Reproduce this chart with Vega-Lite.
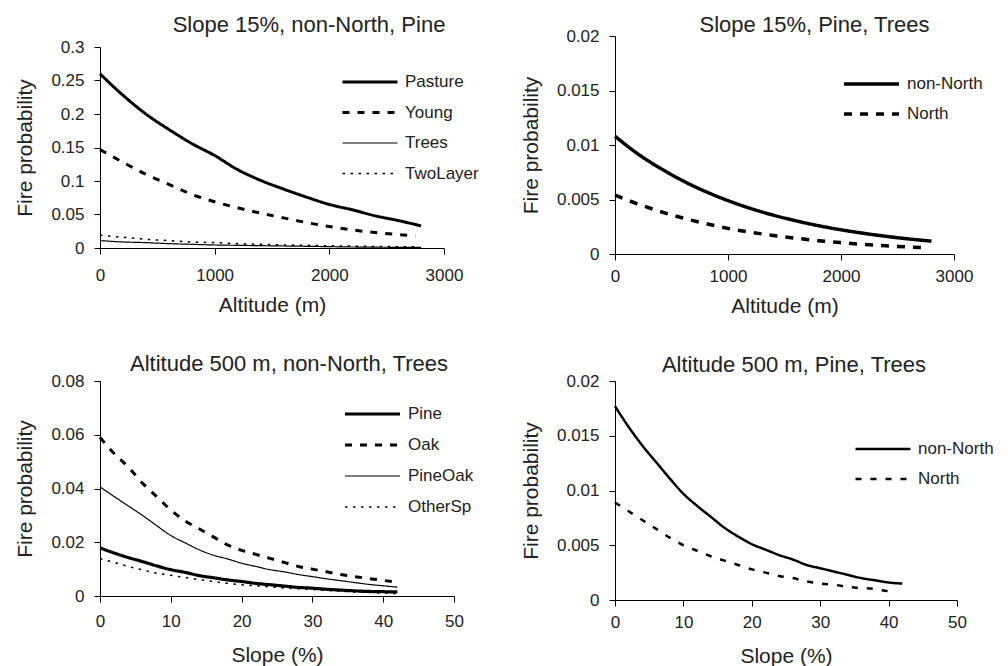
{
  "$schema": "https://vega.github.io/schema/vega-lite/v6.json",
  "padding": {"left": 14, "top": 13, "right": 5, "bottom": 2},
  "background": "white",
  "datasets": {
    "p1": [
      {"x":0,"p":0.26,"s":"Pasture"},{"x":200,"p":0.228,"s":"Pasture"},{"x":400,"p":0.2,"s":"Pasture"},{"x":600,"p":0.177,"s":"Pasture"},{"x":800,"p":0.156,"s":"Pasture"},{"x":1000,"p":0.138,"s":"Pasture"},{"x":1200,"p":0.117,"s":"Pasture"},{"x":1400,"p":0.101,"s":"Pasture"},{"x":1600,"p":0.088,"s":"Pasture"},{"x":1800,"p":0.076,"s":"Pasture"},{"x":2000,"p":0.065,"s":"Pasture"},{"x":2200,"p":0.057,"s":"Pasture"},{"x":2400,"p":0.048,"s":"Pasture"},{"x":2600,"p":0.041,"s":"Pasture"},{"x":2800,"p":0.033,"s":"Pasture"},
      {"x":0,"p":0.147,"s":"Young"},{"x":200,"p":0.128,"s":"Young"},{"x":400,"p":0.11,"s":"Young"},{"x":600,"p":0.095,"s":"Young"},{"x":800,"p":0.08,"s":"Young"},{"x":1000,"p":0.069,"s":"Young"},{"x":1200,"p":0.06,"s":"Young"},{"x":1400,"p":0.052,"s":"Young"},{"x":1600,"p":0.045,"s":"Young"},{"x":1800,"p":0.038,"s":"Young"},{"x":2000,"p":0.032,"s":"Young"},{"x":2200,"p":0.027,"s":"Young"},{"x":2400,"p":0.023,"s":"Young"},{"x":2600,"p":0.02,"s":"Young"},{"x":2750,"p":0.018,"s":"Young"},
      {"x":0,"p":0.011,"s":"Trees"},{"x":200,"p":0.009,"s":"Trees"},{"x":400,"p":0.008,"s":"Trees"},{"x":600,"p":0.0065,"s":"Trees"},{"x":800,"p":0.0055,"s":"Trees"},{"x":1000,"p":0.0045,"s":"Trees"},{"x":1200,"p":0.004,"s":"Trees"},{"x":1400,"p":0.0035,"s":"Trees"},{"x":1600,"p":0.003,"s":"Trees"},{"x":1800,"p":0.0025,"s":"Trees"},{"x":2000,"p":0.002,"s":"Trees"},{"x":2200,"p":0.0015,"s":"Trees"},{"x":2400,"p":0.0012,"s":"Trees"},{"x":2600,"p":0.001,"s":"Trees"},{"x":2800,"p":0.0008,"s":"Trees"},
      {"x":0,"p":0.019,"s":"TwoLayer"},{"x":200,"p":0.016,"s":"TwoLayer"},{"x":400,"p":0.013,"s":"TwoLayer"},{"x":600,"p":0.011,"s":"TwoLayer"},{"x":800,"p":0.009,"s":"TwoLayer"},{"x":1000,"p":0.008,"s":"TwoLayer"},{"x":1200,"p":0.0065,"s":"TwoLayer"},{"x":1400,"p":0.0055,"s":"TwoLayer"},{"x":1600,"p":0.0045,"s":"TwoLayer"},{"x":1800,"p":0.004,"s":"TwoLayer"},{"x":2000,"p":0.0033,"s":"TwoLayer"},{"x":2200,"p":0.0028,"s":"TwoLayer"},{"x":2400,"p":0.0023,"s":"TwoLayer"},{"x":2600,"p":0.002,"s":"TwoLayer"},{"x":2750,"p":0.0018,"s":"TwoLayer"}
    ],
    "p2": [
      {"x":0,"p":0.0108,"s":"non-North"},{"x":200,"p":0.0092,"s":"non-North"},{"x":400,"p":0.00787,"s":"non-North"},{"x":600,"p":0.00672,"s":"non-North"},{"x":800,"p":0.00574,"s":"non-North"},{"x":1000,"p":0.0049,"s":"non-North"},{"x":1200,"p":0.00418,"s":"non-North"},{"x":1400,"p":0.00357,"s":"non-North"},{"x":1600,"p":0.00305,"s":"non-North"},{"x":1800,"p":0.0026,"s":"non-North"},{"x":2000,"p":0.00222,"s":"non-North"},{"x":2200,"p":0.0019,"s":"non-North"},{"x":2400,"p":0.00162,"s":"non-North"},{"x":2600,"p":0.00138,"s":"non-North"},{"x":2800,"p":0.00118,"s":"non-North"},
      {"x":0,"p":0.0054,"s":"North"},{"x":200,"p":0.0046,"s":"North"},{"x":400,"p":0.0039,"s":"North"},{"x":600,"p":0.0033,"s":"North"},{"x":800,"p":0.0028,"s":"North"},{"x":1000,"p":0.00235,"s":"North"},{"x":1200,"p":0.002,"s":"North"},{"x":1400,"p":0.0017,"s":"North"},{"x":1600,"p":0.00145,"s":"North"},{"x":1800,"p":0.00122,"s":"North"},{"x":2000,"p":0.00104,"s":"North"},{"x":2200,"p":0.00088,"s":"North"},{"x":2400,"p":0.00075,"s":"North"},{"x":2600,"p":0.00064,"s":"North"},{"x":2750,"p":0.00057,"s":"North"}
    ],
    "p3": [
      {"x":0,"p":0.0179,"s":"Pine"},{"x":2,"p":0.016,"s":"Pine"},{"x":4,"p":0.0143,"s":"Pine"},{"x":6,"p":0.0128,"s":"Pine"},{"x":8,"p":0.0112,"s":"Pine"},{"x":10,"p":0.0098,"s":"Pine"},{"x":12,"p":0.0088,"s":"Pine"},{"x":14,"p":0.0076,"s":"Pine"},{"x":16,"p":0.0068,"s":"Pine"},{"x":18,"p":0.006,"s":"Pine"},{"x":20,"p":0.0054,"s":"Pine"},{"x":22,"p":0.0047,"s":"Pine"},{"x":24,"p":0.0042,"s":"Pine"},{"x":26,"p":0.0037,"s":"Pine"},{"x":28,"p":0.0032,"s":"Pine"},{"x":30,"p":0.0029,"s":"Pine"},{"x":32,"p":0.0025,"s":"Pine"},{"x":34,"p":0.0022,"s":"Pine"},{"x":36,"p":0.0019,"s":"Pine"},{"x":38,"p":0.0017,"s":"Pine"},{"x":40,"p":0.0016,"s":"Pine"},{"x":42,"p":0.0015,"s":"Pine"},
      {"x":0,"p":0.059,"s":"Oak"},{"x":2,"p":0.053,"s":"Oak"},{"x":4,"p":0.048,"s":"Oak"},{"x":6,"p":0.042,"s":"Oak"},{"x":8,"p":0.037,"s":"Oak"},{"x":10,"p":0.032,"s":"Oak"},{"x":12,"p":0.028,"s":"Oak"},{"x":14,"p":0.025,"s":"Oak"},{"x":16,"p":0.022,"s":"Oak"},{"x":18,"p":0.019,"s":"Oak"},{"x":20,"p":0.017,"s":"Oak"},{"x":22,"p":0.0155,"s":"Oak"},{"x":24,"p":0.014,"s":"Oak"},{"x":26,"p":0.0125,"s":"Oak"},{"x":28,"p":0.011,"s":"Oak"},{"x":30,"p":0.01,"s":"Oak"},{"x":32,"p":0.009,"s":"Oak"},{"x":34,"p":0.008,"s":"Oak"},{"x":36,"p":0.0072,"s":"Oak"},{"x":38,"p":0.0065,"s":"Oak"},{"x":40,"p":0.0058,"s":"Oak"},{"x":42,"p":0.0052,"s":"Oak"},
      {"x":0,"p":0.0406,"s":"PineOak"},{"x":2,"p":0.037,"s":"PineOak"},{"x":4,"p":0.0335,"s":"PineOak"},{"x":6,"p":0.03,"s":"PineOak"},{"x":8,"p":0.0262,"s":"PineOak"},{"x":10,"p":0.0225,"s":"PineOak"},{"x":12,"p":0.0198,"s":"PineOak"},{"x":14,"p":0.0172,"s":"PineOak"},{"x":16,"p":0.0152,"s":"PineOak"},{"x":18,"p":0.0138,"s":"PineOak"},{"x":20,"p":0.0122,"s":"PineOak"},{"x":22,"p":0.011,"s":"PineOak"},{"x":24,"p":0.0098,"s":"PineOak"},{"x":26,"p":0.009,"s":"PineOak"},{"x":28,"p":0.008,"s":"PineOak"},{"x":30,"p":0.0072,"s":"PineOak"},{"x":32,"p":0.0064,"s":"PineOak"},{"x":34,"p":0.0057,"s":"PineOak"},{"x":36,"p":0.005,"s":"PineOak"},{"x":38,"p":0.0043,"s":"PineOak"},{"x":40,"p":0.0038,"s":"PineOak"},{"x":42,"p":0.0033,"s":"PineOak"},
      {"x":0,"p":0.0139,"s":"OtherSp"},{"x":2,"p":0.0125,"s":"OtherSp"},{"x":4,"p":0.011,"s":"OtherSp"},{"x":6,"p":0.0097,"s":"OtherSp"},{"x":8,"p":0.0085,"s":"OtherSp"},{"x":10,"p":0.0077,"s":"OtherSp"},{"x":12,"p":0.0069,"s":"OtherSp"},{"x":14,"p":0.0061,"s":"OtherSp"},{"x":16,"p":0.0054,"s":"OtherSp"},{"x":18,"p":0.0047,"s":"OtherSp"},{"x":20,"p":0.0042,"s":"OtherSp"},{"x":22,"p":0.0038,"s":"OtherSp"},{"x":24,"p":0.0034,"s":"OtherSp"},{"x":26,"p":0.003,"s":"OtherSp"},{"x":28,"p":0.0027,"s":"OtherSp"},{"x":30,"p":0.0024,"s":"OtherSp"},{"x":32,"p":0.0021,"s":"OtherSp"},{"x":34,"p":0.0018,"s":"OtherSp"},{"x":36,"p":0.0015,"s":"OtherSp"},{"x":38,"p":0.0013,"s":"OtherSp"},{"x":40,"p":0.0011,"s":"OtherSp"},{"x":42,"p":0.0009,"s":"OtherSp"}
    ],
    "p4": [
      {"x":0,"p":0.0177,"s":"non-North"},{"x":2,"p":0.0158,"s":"non-North"},{"x":4,"p":0.0141,"s":"non-North"},{"x":6,"p":0.0126,"s":"non-North"},{"x":8,"p":0.0111,"s":"non-North"},{"x":10,"p":0.0097,"s":"non-North"},{"x":12,"p":0.0086,"s":"non-North"},{"x":14,"p":0.0076,"s":"non-North"},{"x":16,"p":0.0066,"s":"non-North"},{"x":18,"p":0.0058,"s":"non-North"},{"x":20,"p":0.0051,"s":"non-North"},{"x":22,"p":0.0046,"s":"non-North"},{"x":24,"p":0.0041,"s":"non-North"},{"x":26,"p":0.0037,"s":"non-North"},{"x":28,"p":0.0032,"s":"non-North"},{"x":30,"p":0.0029,"s":"non-North"},{"x":32,"p":0.0026,"s":"non-North"},{"x":34,"p":0.0023,"s":"non-North"},{"x":36,"p":0.002,"s":"non-North"},{"x":38,"p":0.0018,"s":"non-North"},{"x":40,"p":0.0016,"s":"non-North"},{"x":42,"p":0.0015,"s":"non-North"},
      {"x":0,"p":0.0089,"s":"North"},{"x":2,"p":0.0081,"s":"North"},{"x":4,"p":0.0073,"s":"North"},{"x":6,"p":0.0065,"s":"North"},{"x":8,"p":0.0057,"s":"North"},{"x":10,"p":0.005,"s":"North"},{"x":12,"p":0.0045,"s":"North"},{"x":14,"p":0.004,"s":"North"},{"x":16,"p":0.0036,"s":"North"},{"x":18,"p":0.0032,"s":"North"},{"x":20,"p":0.0028,"s":"North"},{"x":22,"p":0.0025,"s":"North"},{"x":24,"p":0.0022,"s":"North"},{"x":26,"p":0.002,"s":"North"},{"x":28,"p":0.0017,"s":"North"},{"x":30,"p":0.0015,"s":"North"},{"x":32,"p":0.0014,"s":"North"},{"x":34,"p":0.0012,"s":"North"},{"x":36,"p":0.0011,"s":"North"},{"x":38,"p":0.001,"s":"North"},{"x":40,"p":0.0008,"s":"North"},{"x":41,"p":0.00075,"s":"North"}
    ]
  },
  "resolve": {"scale": {"strokeDash": "independent", "strokeWidth": "independent"}, "legend": {"strokeDash": "independent", "strokeWidth": "independent"}},
  "spacing": 41,
  "hconcat": [
    {
      "resolve": {"scale": {"strokeDash": "independent", "strokeWidth": "independent"}, "legend": {"strokeDash": "independent", "strokeWidth": "independent"}},
      "spacing": 0,
      "vconcat": [
        {"width": 1, "height": 1, "data": {"values": []}, "mark": {"type": "point", "opacity": 0}},
        {
          "resolve": {"scale": {"strokeDash": "independent", "strokeWidth": "independent"}, "legend": {"strokeDash": "independent", "strokeWidth": "independent"}},
          "spacing": 38,
          "vconcat": [
            {
              "width": 344, "height": 201,
              "title": {"text": "Slope 15%, non-North, Pine", "offset": 1, "dx": 37},
              "data": {"name": "p1"},
              "mark": {"type": "line", "color": "#000", "interpolate": "monotone", "strokeCap": "butt"},
              "encoding": {
                "x": {"field": "x", "type": "quantitative", "scale": {"domain": [0, 3000]}, "axis": {"title": "Altitude (m)", "values": [0, 1000, 2000, 3000], "format": "d", "labelPadding": 13, "titlePadding": 11}},
                "y": {"field": "p", "type": "quantitative", "scale": {"domain": [0, 0.3]}, "axis": {"title": "Fire probability", "values": [0, 0.05, 0.1, 0.15, 0.2, 0.25, 0.3], "format": ".2~f"}},
                "strokeDash": {"field": "s", "type": "nominal", "scale": {"domain": ["Pasture", "Young", "Trees", "TwoLayer"], "range": [[1, 0], [7, 8], [1, 0], [2.5, 5.5]]}, "legend": {"title": null, "orient": "none", "legendX": 241, "legendY": 25, "rowPadding": 10.5}},
                "strokeWidth": {"field": "s", "type": "nominal", "scale": {"type": "ordinal", "domain": ["Pasture", "Young", "Trees", "TwoLayer"], "range": [3, 3, 1.2, 1.5]}, "legend": {"title": null, "orient": "none", "legendX": 241, "legendY": 25, "rowPadding": 10.5}}
              }
            },
            {
              "width": 354, "height": 215,
              "title": {"text": "Altitude 500 m, non-North, Trees", "offset": -4, "dx": 12},
              "data": {"name": "p3"},
              "mark": {"type": "line", "color": "#000", "interpolate": "monotone", "strokeCap": "butt"},
              "encoding": {
                "x": {"field": "x", "type": "quantitative", "scale": {"domain": [0, 50]}, "axis": {"title": "Slope (%)", "values": [0, 10, 20, 30, 40, 50], "format": "d", "labelPadding": 11, "titlePadding": 15}},
                "y": {"field": "p", "type": "quantitative", "scale": {"domain": [0, 0.08]}, "axis": {"title": "Fire probability", "values": [0, 0.02, 0.04, 0.06, 0.08], "format": ".2~f"}},
                "strokeDash": {"field": "s", "type": "nominal", "scale": {"domain": ["Pine", "Oak", "PineOak", "OtherSp"], "range": [[1, 0], [7, 8], [1, 0], [2.5, 5.5]]}, "legend": {"title": null, "orient": "none", "legendX": 243, "legendY": 23, "rowPadding": 11}},
                "strokeWidth": {"field": "s", "type": "nominal", "scale": {"type": "ordinal", "domain": ["Pine", "Oak", "PineOak", "OtherSp"], "range": [3.2, 3, 1.2, 1.5]}, "legend": {"title": null, "orient": "none", "legendX": 243, "legendY": 23, "rowPadding": 11}}
              }
            }
          ]
        }
      ]
    },
    {
      "resolve": {"scale": {"strokeDash": "independent", "strokeWidth": "independent"}, "legend": {"strokeDash": "independent", "strokeWidth": "independent"}},
      "spacing": 0,
      "vconcat": [
        {"width": 1, "height": 1, "data": {"values": []}, "mark": {"type": "point", "opacity": 0}},
        {
          "resolve": {"scale": {"strokeDash": "independent", "strokeWidth": "independent"}, "legend": {"strokeDash": "independent", "strokeWidth": "independent"}},
          "spacing": 38,
          "vconcat": [
            {
              "width": 339, "height": 218,
              "title": {"text": "Slope 15%, Pine, Trees", "offset": -10, "dx": 30},
              "data": {"name": "p2"},
              "mark": {"type": "line", "color": "#000", "interpolate": "monotone", "strokeCap": "butt"},
              "encoding": {
                "x": {"field": "x", "type": "quantitative", "scale": {"domain": [0, 3000]}, "axis": {"title": "Altitude (m)", "values": [0, 1000, 2000, 3000], "format": "d", "labelPadding": 8, "titlePadding": 11}},
                "y": {"field": "p", "type": "quantitative", "scale": {"domain": [0, 0.02]}, "axis": {"title": "Fire probability", "values": [0, 0.005, 0.01, 0.015, 0.02], "format": ".3~f"}},
                "strokeDash": {"field": "s", "type": "nominal", "scale": {"domain": ["non-North", "North"], "range": [[1, 0], [8, 8]]}, "legend": {"title": null, "orient": "none", "legendX": 227, "legendY": 38}},
                "strokeWidth": {"field": "s", "type": "nominal", "scale": {"type": "ordinal", "domain": ["non-North", "North"], "range": [3.5, 3.5]}, "legend": {"title": null, "orient": "none", "legendX": 227, "legendY": 38}}
              }
            },
            {
              "width": 342, "height": 219,
              "title": {"text": "Altitude 500 m, Pine, Trees", "offset": -5, "dx": 8},
              "data": {"name": "p4"},
              "mark": {"type": "line", "color": "#000", "interpolate": "monotone", "strokeCap": "butt"},
              "encoding": {
                "x": {"field": "x", "type": "quantitative", "scale": {"domain": [0, 50]}, "axis": {"title": "Slope (%)", "values": [0, 10, 20, 30, 40, 50], "format": "d", "labelPadding": 8, "titlePadding": 15}},
                "y": {"field": "p", "type": "quantitative", "scale": {"domain": [0, 0.02]}, "axis": {"title": "Fire probability", "values": [0, 0.005, 0.01, 0.015, 0.02], "format": ".3~f"}},
                "strokeDash": {"field": "s", "type": "nominal", "scale": {"domain": ["non-North", "North"], "range": [[1, 0], [6, 9]]}, "legend": {"title": null, "orient": "none", "legendX": 239, "legendY": 58}},
                "strokeWidth": {"field": "s", "type": "nominal", "scale": {"type": "ordinal", "domain": ["non-North", "North"], "range": [2.5, 2.5]}, "legend": {"title": null, "orient": "none", "legendX": 239, "legendY": 58}}
              }
            }
          ]
        }
      ]
    }
  ],
  "config": {
    "font": "Liberation Sans",
    "view": {"stroke": null},
    "axis": {"grid": false, "domainColor": "#000", "tickColor": "#000", "labelColor": "#222", "titleColor": "#222", "labelFontSize": 17, "titleFontSize": 21, "titleFontWeight": "normal", "tickSize": 6, "labelPadding": 8, "titlePadding": 10, "labelFlush": false, "labelOverlap": false, "labelFont": "Liberation Sans", "titleFont": "Liberation Sans"},
    "axisY": {"titlePadding": 15, "labelPadding": 10},
    "title": {"fontSize": 22, "fontWeight": "normal", "color": "#222", "font": "Liberation Sans"},
    "legend": {"labelFontSize": 17, "labelColor": "#222", "labelFont": "Liberation Sans", "symbolType": "stroke", "symbolSize": 3025, "symbolStrokeColor": "#000", "clipHeight": 20, "rowPadding": 10, "labelOffset": 6, "padding": 0}
  }
}
